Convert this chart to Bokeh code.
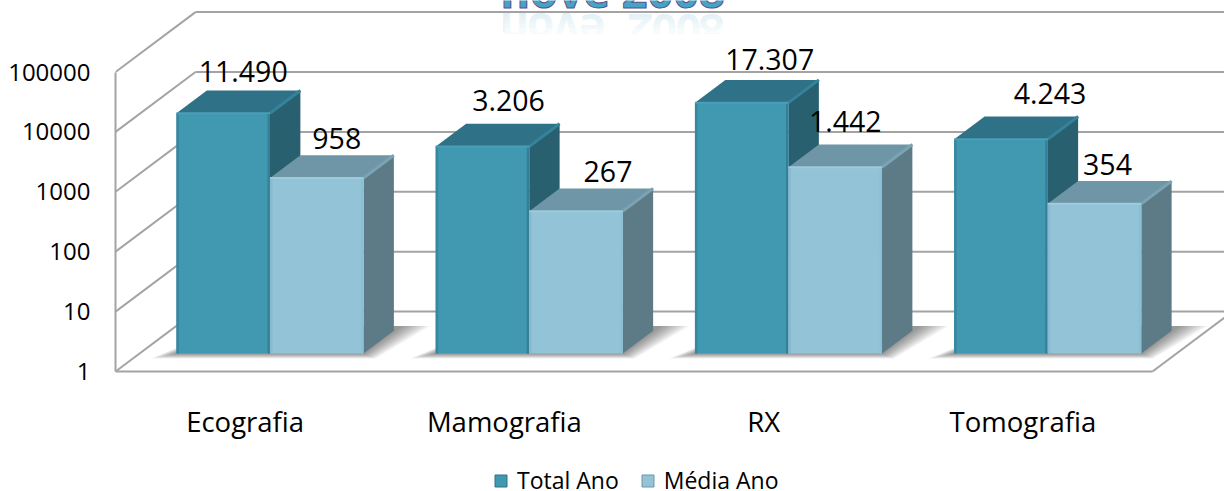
from bokeh.plotting import figure
from bokeh.embed import file_html
from bokeh.resources import INLINE
from bokeh.models import (ColumnDataSource, Range1d, FixedTicker, Legend, LegendItem)
from bokeh.core.properties import value

categories = ["Ecografia", "Mamografia", "RX", "Tomografia"]
total_ano = [11490, 3206, 17307, 4243]
media_ano = [958, 267, 1442, 354]
series_names = ["Total Ano", "Média Ano"]
y_ticks = [1, 10, 100, 1000, 10000, 100000]
title_text = "nove 2008"

# hand-placed data label nudges (px from the top front centre of each bar)
label_dx = [[20, 20], [26, 32], [28, 10], [49, 13]]
label_dy = [[-42, -39], [-46, -40], [-43, -46], [-46, -39]]

FONT = "Open Sans"
GRID = "#a3a3a3"
CAT_PX = 259.25
DECADE_PX = 59.9
DX = 80 / CAT_PX
BAR_D0, BAR_D1 = 0.25, 0.63
BASE = 1.12
G0, BW = 0.158, 0.3607

STY = [
    dict(front="#4098b1", top="#2f7187", side="#286070", ridge="#34839b", edge_l="#37879f", edge_r="#357f97", edge_t="#4a9fb6"),
    dict(front="#93c3d6", top="#6e96a6", side="#5c7b86", ridge="#7ba3b3", edge_l="#87bad0", edge_r="#8ac0d6", edge_t="#9ccbdc"),
]

p = figure(width=1224, height=491, output_backend="svg", toolbar_location=None,
           y_axis_type="log", x_range=Range1d(0, (1224 - 115) / CAT_PX),
           y_range=Range1d(10 ** (-120 / DECADE_PX), 10 ** (371 / DECADE_PX)),
           min_border_left=115, min_border_right=0, min_border_top=0, min_border_bottom=0,
           outline_line_color=None, background_fill_color="white", border_fill_color="white")
p.grid.visible = False


def pt(x, v, d):
    return x + d * DX, v * 10 ** d


def poly(points, color, alpha=1.0):
    p.patch([a for a, _ in points], [b for _, b in points], fill_color=color, fill_alpha=alpha, line_color=None)


def seg(a, b, color, width=2):
    p.line([a[0], b[0]], [a[1], b[1]], line_color=color, line_width=width)


# faint reflection of the title under the back wall's top line
ref_chars = list(title_text.replace(" ", ""))
ref_dx = [-98, -72, -46, -20, 28, 52, 76, 99]
p.text([2] * len(ref_chars), [10 ** 6] * len(ref_chars), text=ref_chars,
       x_offset=[d - 21.5 for d in ref_dx], y_offset=[18] * len(ref_chars), angle=3.14159,
       text_align="center", text_baseline="alphabetic", text_font=value(FONT),
       text_font_style="bold", text_font_size="45px", text_color="#8cc4d8", text_alpha=0.25)
for k in range(9):
    f = 10 ** (-(k * 2.4) / DECADE_PX)
    f2 = 10 ** (-((k + 1) * 2.4) / DECADE_PX)
    p.quad(left=1.5, right=2.6, top=[10 ** 6 * f], bottom=[10 ** 6 * f2], fill_color="white",
           fill_alpha=min(1, 0.1 * k), line_color=None)
p.quad(left=1.4, right=2.7, top=[10 ** 6 * 10 ** (-21.6 / DECADE_PX)], bottom=[10 ** 6 * 10 ** (-48 / DECADE_PX)],
       fill_color="white", line_color=None)

for t in y_ticks:
    seg(pt(0, t, 0), pt(0, t, 1), GRID)
    seg(pt(0, t, 1), (5, t * 10), GRID)
seg(pt(4, 1, 0), pt(4, 1, 1), GRID)

N = 12
for c in range(4):
    l, r = c + G0, c + G0 + 2 * BW
    for k in range(1, N + 1):
        e = k / N
        fl = pt(l - 26 * e / CAT_PX, 1.12 * 10 ** (-5 * e / DECADE_PX), BAR_D0)
        fr = pt(r + 12 * e / CAT_PX, 1.12 * 10 ** (-5 * e / DECADE_PX), BAR_D0)
        br = pt(r + 30 * e / CAT_PX, 1.12, BAR_D1 + 0.08)
        bl = pt(l + (22 - 6 * e) / CAT_PX, 1.12, BAR_D1 + 0.08)
        poly([fl, fr, br, bl], "#000000", 0.04)

all_x, all_y, labels, dxs, dys = [], [], [], [], []
for c in range(4):
    for s, vals in enumerate([total_ano, media_ano]):
        st = STY[s]
        l = c + G0 + s * BW
        r = l + BW
        v = vals[c]
        poly([pt(r, BASE, BAR_D0), pt(r, BASE, BAR_D1), pt(r, v, BAR_D1), pt(r, v, BAR_D0)], st["side"])
        poly([pt(l, v, BAR_D0), pt(r, v, BAR_D0), pt(r, v, BAR_D1), pt(l, v, BAR_D1)], st["top"])
        poly([pt(l, BASE, BAR_D0), pt(r, BASE, BAR_D0), pt(r, v, BAR_D0), pt(l, v, BAR_D0)], st["front"])
        seg(pt(r, v, BAR_D0), pt(r, v, BAR_D1), st["ridge"], 3)
        e = 1.2 / CAT_PX
        seg(pt(l + e, BASE, BAR_D0), pt(l + e, v, BAR_D0), st["edge_l"], 2.5)
        seg(pt(r - e, BASE, BAR_D0), pt(r - e, v, BAR_D0), st["edge_r"], 2.5)
        seg(pt(l, v, BAR_D0), pt(r, v, BAR_D0), st["edge_t"], 2)
        all_x.append(l + BW / 2)
        all_y.append(v)
        labels.append(f"{v:,}".replace(",", "."))
        dxs.append(label_dx[c][s])
        dys.append(label_dy[c][s])

x_shift = [a + BAR_D0 * DX for a in all_x]
y_shift = [v * 10 ** BAR_D0 for v in all_y]
src = ColumnDataSource(dict(x=x_shift, y=y_shift, t=labels, dx=dxs, dy=dys))
p.text("x", "y", text="t", x_offset="dx", y_offset="dy", source=src, text_align="center", text_baseline="middle",
       text_font=value(FONT), text_font_size="28.5px", text_color="#000000")

p.text([2], [10 ** 6], text=[title_text], x_offset=[-21.5], y_offset=[-22], text_align="center",
       text_baseline="alphabetic", text_font=value(FONT), text_font_style="bold", text_font_size="45px",
       text_color="#45a4c2", outline_color="#5f4f94")

p.yaxis.ticker = FixedTicker(ticks=y_ticks)
p.yaxis.major_label_overrides = {t: str(t) for t in y_ticks}
p.yaxis.bounds = (1, 100000)
p.yaxis.axis_line_color = GRID
p.yaxis.axis_line_width = 2
p.yaxis.major_tick_line_color = None
p.yaxis.minor_tick_line_color = None
p.yaxis.major_label_standoff = 19
p.yaxis.major_label_text_font = FONT
p.yaxis.major_label_text_font_size = "24px"
p.yaxis.major_label_text_color = "#000000"

centers = [i + 0.5 for i in range(4)]
p.xaxis.ticker = FixedTicker(ticks=centers)
p.xaxis.major_label_overrides = {c: n for c, n in zip(centers, categories)}
p.xaxis.bounds = (0, 4)
p.xaxis.fixed_location = 1
p.xaxis.axis_line_color = GRID
p.xaxis.axis_line_width = 2
p.xaxis.major_tick_line_color = None
p.xaxis.minor_tick_line_color = None
p.xaxis.major_label_standoff = 25
p.xaxis.major_label_text_font = FONT
p.xaxis.major_label_text_font_size = "27.5px"
p.xaxis.major_label_text_color = "#000000"

items = []
for s, name in enumerate(series_names):
    r = p.quad(left=[-1], right=[-1], top=[1], bottom=[1], fill_color=STY[s]["front"], line_color=STY[s]["top"])
    items.append(LegendItem(label=name, renderers=[r]))
leg = Legend(items=items, orientation="horizontal", location=(378, -5), glyph_width=15, glyph_height=15,
             label_standoff=9, spacing=21, padding=0, margin=0, border_line_color=None,
             background_fill_alpha=0, label_text_font=FONT, label_text_font_size="23px", label_text_color="#000000")
p.add_layout(leg, "center")

open("out.html", "w").write(file_html(p, INLINE))
